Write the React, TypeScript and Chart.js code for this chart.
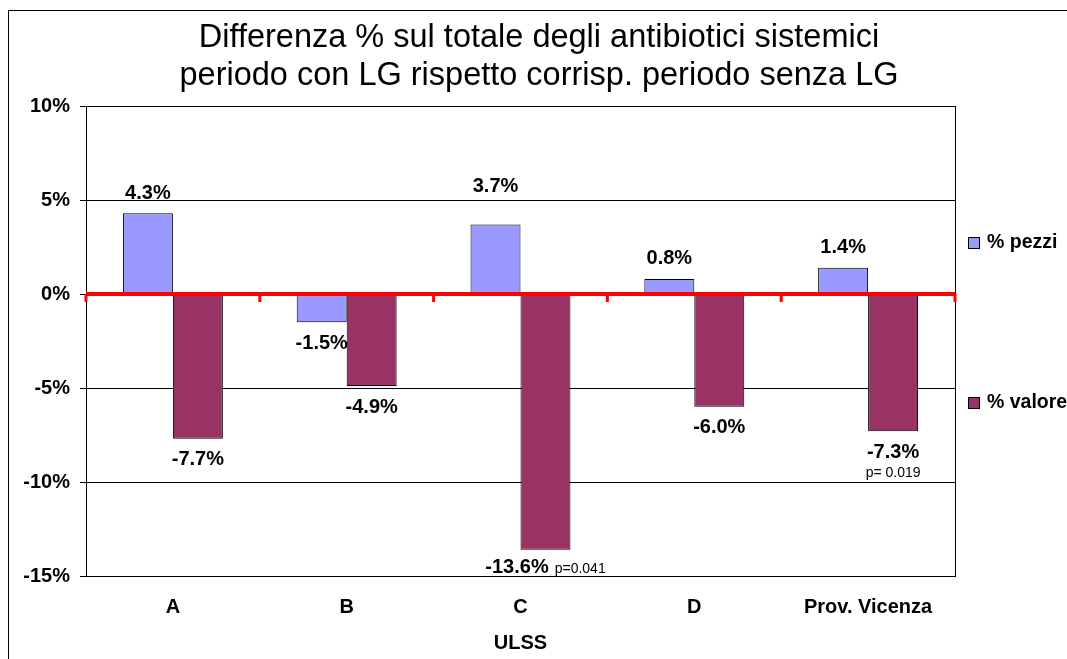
import React, { useEffect, useRef } from 'react';
import { Chart, registerables } from 'chart.js';

Chart.register(...registerables);

const categories = ['A', 'B', 'C', 'D', 'Prov. Vicenza'];
const pezzi = [4.3, -1.5, 3.7, 0.8, 1.4];
const valore = [-7.7, -4.9, -13.6, -6.0, -7.3];
const valoreNotes = ['', '', 'p=0.041', '', 'p= 0.019'];
const valoreNotePlacement = ['', '', 'inline', '', 'below'];
const seriesNames = ['% pezzi', '% valore'];
const seriesColors = ['#9999FF', '#993366'];
const titleLines = [
  'Differenza % sul totale degli antibiotici sistemici',
  'periodo con LG rispetto corrisp. periodo senza LG',
];
const xAxisTitle = 'ULSS';
const yMin = -15;
const yMax = 10;
const yStep = 5;

const FONT = '"Liberation Sans", Arial, sans-serif';

const fmt = (v: number) => v.toFixed(1) + '%';

// manual label lift (pixels) applied to the "% pezzi" label of category C, as in the original
const LABEL_STYLE = { pezziLiftC: 18 };

const decorPlugin = {
  id: 'decor',
  beforeDraw(chart: any) {
    const { ctx, width, height } = chart;
    ctx.save();
    ctx.fillStyle = '#fff';
    ctx.fillRect(0, 0, width, height);
    ctx.strokeStyle = '#000';
    ctx.lineWidth = 1;
    ctx.strokeRect(8.5, 10.5, width + 20, height + 20);
    ctx.fillStyle = '#000';
    ctx.font = `32.5px ${FONT}`;
    ctx.textAlign = 'center';
    ctx.textBaseline = 'alphabetic';
    ctx.fillText(titleLines[0], 539, 47);
    ctx.fillText(titleLines[1], 539, 85);
    ctx.restore();
  },
  afterDatasetsDraw(chart: any) {
    const { ctx, chartArea, scales } = chart;
    const x = scales.x;
    const y = scales.y;
    const y0 = Math.round(y.getPixelForValue(0));
    ctx.save();
    ctx.strokeStyle = '#000';
    ctx.lineWidth = 1;
    ctx.strokeRect(
      Math.round(chartArea.left) + 0.5,
      Math.round(chartArea.top) + 0.5,
      Math.round(chartArea.right - chartArea.left),
      Math.round(chartArea.bottom - chartArea.top)
    );
    ctx.strokeStyle = '#FF0000';
    ctx.lineWidth = 4;
    ctx.beginPath();
    ctx.moveTo(chartArea.left, y0);
    ctx.lineTo(chartArea.right, y0);
    ctx.stroke();
    ctx.lineWidth = 3;
    const n = categories.length;
    const cw = x.getPixelForValue(1) - x.getPixelForValue(0);
    for (let i = 0; i <= n; i++) {
      const px = i < n ? x.getPixelForValue(i) - cw / 2 : x.getPixelForValue(n - 1) + cw / 2;
      ctx.beginPath();
      ctx.moveTo(px, y0);
      ctx.lineTo(px, y0 + 8);
      ctx.stroke();
    }
    ctx.restore();
  },
  afterDraw(chart: any) {
    const { ctx, chartArea } = chart;
    ctx.save();
    ctx.fillStyle = '#000';
    chart.data.datasets.forEach((ds: any, di: number) => {
      const meta = chart.getDatasetMeta(di);
      meta.data.forEach((el: any, i: number) => {
        const v = ds.data[i];
        const text = fmt(v);
        ctx.font = `bold 20px ${FONT}`;
        let cy: number;
        if (v >= 0) cy = el.y - 20;
        else cy = Math.min(el.y + 21, chartArea.bottom - 10);
        if (di === 0 && categories[i] === 'C') cy -= LABEL_STYLE.pezziLiftC;
        const note = di === 1 ? valoreNotes[i] : '';
        const place = di === 1 ? valoreNotePlacement[i] : '';
        if (note && place === 'inline') {
          const w1 = ctx.measureText(text).width;
          ctx.font = `14px ${FONT}`;
          const w2 = ctx.measureText(note).width;
          const gap = 6;
          const start = el.x - (w1 + gap + w2) / 2;
          ctx.textAlign = 'left';
          ctx.textBaseline = 'alphabetic';
          ctx.font = `bold 20px ${FONT}`;
          ctx.fillText(text, start, cy + 7);
          ctx.font = `14px ${FONT}`;
          ctx.fillText(note, start + w1 + gap, cy + 7);
        } else {
          ctx.textAlign = 'center';
          ctx.textBaseline = 'middle';
          ctx.fillText(text, el.x, cy);
          if (note && place === 'below') {
            ctx.font = `14px ${FONT}`;
            ctx.fillText(note, el.x, cy + 21);
          }
        }
      });
    });
    const legendY = [243, 403];
    seriesNames.forEach((name, i) => {
      const ly = legendY[i];
      ctx.fillStyle = seriesColors[i];
      ctx.fillRect(968.5, ly - 5.5, 11, 11);
      ctx.strokeStyle = '#000';
      ctx.lineWidth = 1;
      ctx.strokeRect(968.5, ly - 5.5, 11, 11);
      ctx.fillStyle = '#000';
      ctx.font = `bold 19.5px ${FONT}`;
      ctx.textAlign = 'left';
      ctx.textBaseline = 'middle';
      ctx.fillText(name, 987, ly);
    });
    ctx.restore();
  },
};

export default function App() {
  const ref = useRef<HTMLCanvasElement | null>(null);
  useEffect(() => {
    if (!ref.current) return;
    const chart = new Chart(ref.current, {
      type: 'bar',
      data: {
        labels: categories,
        datasets: [
          {
            label: seriesNames[0],
            data: pezzi,
            backgroundColor: seriesColors[0],
            borderColor: '#000',
            borderWidth: 1,
          },
          {
            label: seriesNames[1],
            data: valore,
            backgroundColor: seriesColors[1],
            borderColor: '#000',
            borderWidth: 1,
          },
        ],
      },
      options: {
        responsive: false,
        animation: false,
        layout: { padding: { top: 106, right: 112, left: 0, bottom: 0 } },
        datasets: { bar: { categoryPercentage: 0.575, barPercentage: 1 } },
        plugins: {
          legend: { display: false },
          title: { display: false },
          tooltip: { enabled: false },
        },
        scales: {
          x: {
            grid: { display: false, drawTicks: false },
            border: { display: true, color: '#000', width: 1 },
            ticks: {
              color: '#000',
              font: { family: FONT, size: 20, weight: 'bold' },
              padding: 19,
              maxRotation: 0,
              autoSkip: false,
            },
            title: {
              display: true,
              text: xAxisTitle,
              color: '#000',
              font: { family: FONT, size: 20, weight: 'bold' },
              padding: { top: 0, bottom: 4 },
            },
            afterFit(scale: any) {
              scale.height = 83;
            },
          },
          y: {
            min: yMin,
            max: yMax,
            grid: { color: '#000', lineWidth: 1, tickLength: 6, drawTicks: true },
            border: { display: true, color: '#000', width: 1 },
            ticks: {
              stepSize: yStep,
              color: '#000',
              padding: 10,
              font: { family: FONT, size: 20, weight: 'bold' },
              callback: (v: any) => v + '%',
            },
            afterFit(scale: any) {
              scale.width = 86;
            },
          },
        },
      },
      plugins: [decorPlugin],
    } as any);
    return () => chart.destroy();
  }, []);
  return (
    <div style={{ position: 'absolute', left: 0, top: 0, width: 1067, height: 659 }}>
      <canvas ref={ref} width={1067} height={659} />
    </div>
  );
}
